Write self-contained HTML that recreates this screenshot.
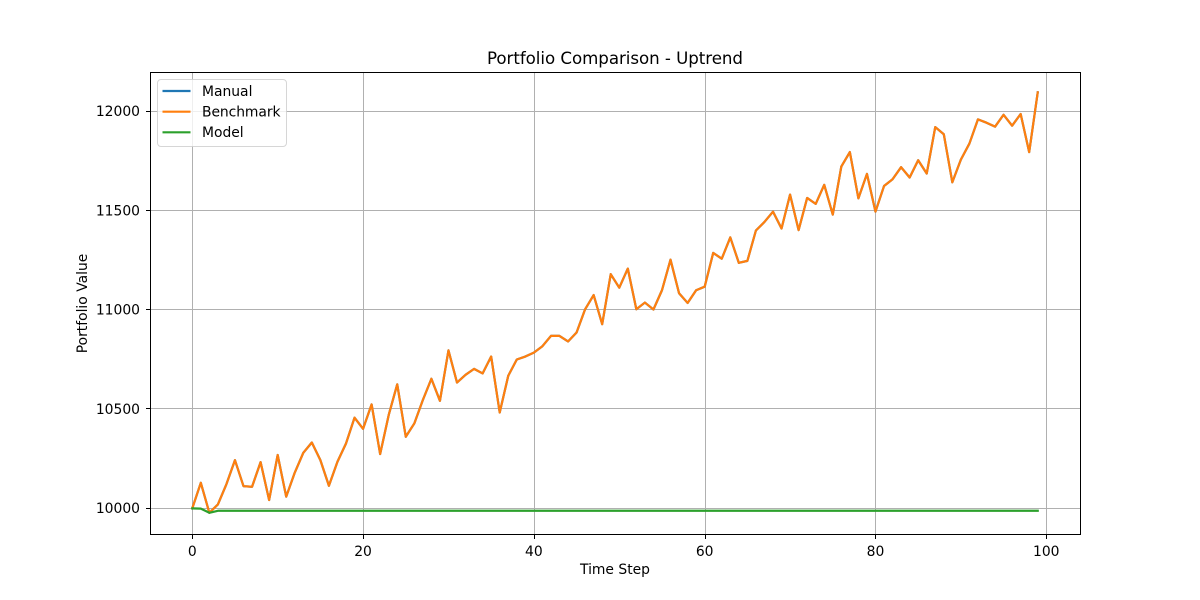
<!DOCTYPE html>
<html lang="en">
<head>
<meta charset="utf-8">
<title>Portfolio Comparison - Uptrend</title>
<style>
html,body{margin:0;padding:0;background:#fff;width:1200px;height:600px;overflow:hidden}
svg{display:block}
text{font-family:"DejaVu Sans","Liberation Sans",sans-serif;fill:#000}
</style>
</head>
<body>
<svg id="chart" xmlns="http://www.w3.org/2000/svg" width="1200" height="600" viewBox="0 0 1200 600">
  <rect x="0" y="0" width="1200" height="600" fill="#fff"/>
  <g id="grid"></g>
  <g id="series"></g>
  <g id="ticks"></g>
  <rect x="150.5" y="72.5" width="930" height="462" fill="none" stroke="#000" stroke-width="1"/>
  <text x="615" y="64" font-size="16.67" text-anchor="middle" textLength="256">Portfolio Comparison - Uptrend</text>
  <text x="615" y="574" font-size="13.89" text-anchor="middle">Time Step</text>
  <text x="0" y="0" font-size="13.89" text-anchor="middle" transform="translate(87,303.5) rotate(-90)">Portfolio Value</text>
  <g>
    <rect x="157.5" y="79.5" width="129" height="67" rx="3.5" ry="3.5" fill="#fff" fill-opacity="0.8" stroke="#ccc" stroke-opacity="0.8" stroke-width="1"/>
    <line x1="162.5" x2="190.5" y1="91" y2="91" stroke="#1f77b4" stroke-width="2.2"/>
    <text x="202" y="96" font-size="13.89">Manual</text>
    <line x1="162.5" x2="190.5" y1="111.7" y2="111.7" stroke="#ff7f0e" stroke-width="2.2"/>
    <text x="202" y="116.5" font-size="13.89" textLength="78.5">Benchmark</text>
    <line x1="162.5" x2="190.5" y1="132.3" y2="132.3" stroke="#2ca02c" stroke-width="2.2"/>
    <text x="202" y="137" font-size="13.89">Model</text>
  </g>
</svg>
<script>
const xTickValues = [0, 20, 40, 60, 80, 100];
const yTickValues = [10000, 10500, 11000, 11500, 12000];
const manualValues = [10000,10129,9978,10020,10122,10243,10112,10109,10233,10042,10269,10059,10180,10280,10332,10243,10114,10235,10327,10457,10401,10524,10274,10470,10625,10361,10428,10546,10653,10542,10796,10634,10673,10703,10680,10765,10483,10668,10750,10765,10785,10817,10869,10869,10841,10886,11003,11075,10928,11180,11112,11208,11003,11037,11002,11099,11253,11084,11035,11099,11117,11287,11258,11365,11237,11247,11400,11443,11495,11410,11581,11402,11564,11534,11630,11480,11722,11795,11562,11685,11495,11624,11658,11719,11667,11754,11687,11921,11885,11643,11757,11838,11960,11943,11923,11983,11928,11987,11795,12096];
const benchmarkValues = [10000,10129,9978,10020,10122,10243,10112,10109,10233,10042,10269,10059,10180,10280,10332,10243,10114,10235,10327,10457,10401,10524,10274,10470,10625,10361,10428,10546,10653,10542,10796,10634,10673,10703,10680,10765,10483,10668,10750,10765,10785,10817,10869,10869,10841,10886,11003,11075,10928,11180,11112,11208,11003,11037,11002,11099,11253,11084,11035,11099,11117,11287,11258,11365,11237,11247,11400,11443,11495,11410,11581,11402,11564,11534,11630,11480,11722,11795,11562,11685,11495,11624,11658,11719,11667,11754,11687,11921,11885,11643,11757,11838,11960,11943,11923,11983,11928,11987,11795,12096];
const modelValues = [10000,9999,9978,9988,9988,9988,9988,9988,9988,9988,9988,9988,9988,9988,9988,9988,9988,9988,9988,9988,9988,9988,9988,9988,9988,9988,9988,9988,9988,9988,9988,9988,9988,9988,9988,9988,9988,9988,9988,9988,9988,9988,9988,9988,9988,9988,9988,9988,9988,9988,9988,9988,9988,9988,9988,9988,9988,9988,9988,9988,9988,9988,9988,9988,9988,9988,9988,9988,9988,9988,9988,9988,9988,9988,9988,9988,9988,9988,9988,9988,9988,9988,9988,9988,9988,9988,9988,9988,9988,9988,9988,9988,9988,9988,9988,9988,9988,9988,9988,9988];

const NS = 'http://www.w3.org/2000/svg';
const plotLeft = 150.5, plotRight = 1080.5, plotTop = 72.5, plotBottom = 534.5;
const xScale = t => 192.27 + t * 8.54;
const yScale = v => 508 - (v - 10000) * 0.1985;
const xSnap = t => Math.round(xScale(t)) + 0.5;
const ySnap = v => Math.floor(yScale(v)) + 0.5;
const gridGroup = document.getElementById('grid');
const seriesGroup = document.getElementById('series');
const tickGroup = document.getElementById('ticks');

function makeLine(x1, y1, x2, y2, stroke, width) {
  const l = document.createElementNS(NS, 'line');
  l.setAttribute('x1', x1);
  l.setAttribute('y1', y1);
  l.setAttribute('x2', x2);
  l.setAttribute('y2', y2);
  l.setAttribute('stroke', stroke);
  l.setAttribute('stroke-width', width);
  return l;
}
function makeText(x, y, anchor, str) {
  const t = document.createElementNS(NS, 'text');
  t.setAttribute('x', x);
  t.setAttribute('y', y);
  t.setAttribute('text-anchor', anchor);
  t.setAttribute('font-size', '13.89');
  t.textContent = str;
  return t;
}

xTickValues.forEach(v => {
  const x = xSnap(v);
  const g = makeLine(x, plotTop, x, plotBottom, '#b0b0b0', 1);
  
  
  gridGroup.appendChild(g);
  const m = makeLine(x, plotBottom, x, plotBottom + 4.5, '#000', 1);
  
  
  tickGroup.appendChild(m);
  const t = makeText(xScale(v), 556, 'middle', String(v));
  
  
  tickGroup.appendChild(t);
});

yTickValues.forEach(v => {
  const y = ySnap(v);
  const g = makeLine(plotLeft, y, plotRight, y, '#b0b0b0', 1);
  
  
  gridGroup.appendChild(g);
  const m = makeLine(plotLeft - 4.5, y, plotLeft, y, '#000', 1);
  
  
  tickGroup.appendChild(m);
  const t = makeText(140, yScale(v) + 5, 'end', String(v));
  
  
  tickGroup.appendChild(t);
});

function makeSeries(values, color) {
  const p = document.createElementNS(NS, 'polyline');
  p.setAttribute('points', values.map((v, i) => xScale(i).toFixed(2) + ',' + (yScale(v) + 0.4).toFixed(2)).join(' '));
  p.setAttribute('fill', 'none');
  p.setAttribute('stroke', color);
  p.setAttribute('stroke-width', '2.2');
  p.setAttribute('stroke-linejoin', 'round');
  p.setAttribute('stroke-linecap', 'square');
  return p;
}
const manualLine = makeSeries(manualValues, '#1f77b4');


seriesGroup.appendChild(manualLine);
const benchmarkLine = makeSeries(benchmarkValues, '#ff7f0e');


seriesGroup.appendChild(benchmarkLine);
const modelLine = makeSeries(modelValues, '#2ca02c');


seriesGroup.appendChild(modelLine);
</script>
</body>
</html>
